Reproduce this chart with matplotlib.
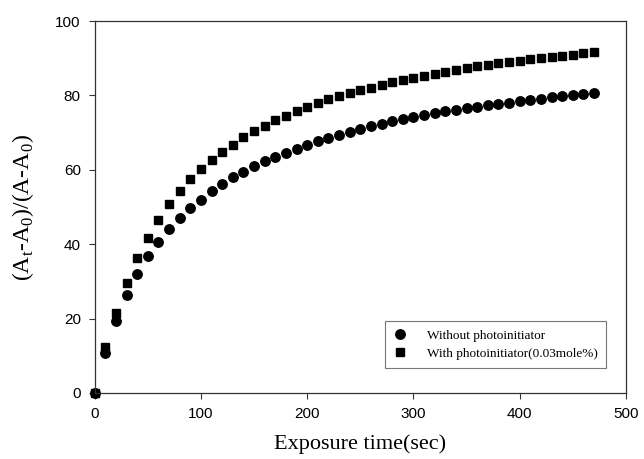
import numpy as np
import matplotlib
matplotlib.use("Agg")
import matplotlib.pyplot as plt

# exposure time (sec), sampled every 10 s
time_sec = list(range(0, 480, 10))

without_pi = [0.0, 10.7, 19.4, 26.3, 31.9, 36.7, 40.7, 44.1, 47.0, 49.8,
              52.0, 54.3, 56.2, 58.0, 59.5, 61.0, 62.4, 63.4, 64.5, 65.6,
              66.7, 67.7, 68.5, 69.4, 70.2, 71.0, 71.7, 72.4, 73.0, 73.6,
              74.2, 74.7, 75.2, 75.7, 76.2, 76.6, 76.9, 77.4, 77.8, 78.1,
              78.5, 78.8, 79.1, 79.5, 79.8, 80.1, 80.3, 80.6]

with_pi = [0.0, 12.4, 21.6, 29.6, 36.2, 41.7, 46.5, 50.7, 54.3, 57.4,
           60.2, 62.6, 64.8, 66.7, 68.7, 70.4, 71.8, 73.4, 74.5, 75.8,
           76.9, 78.0, 79.0, 79.8, 80.6, 81.4, 82.1, 82.8, 83.5, 84.1,
           84.7, 85.3, 85.8, 86.3, 86.8, 87.3, 87.9, 88.2, 88.6, 89.0,
           89.4, 89.7, 90.0, 90.4, 90.7, 91.0, 91.4, 91.7]

x_ticks = [0, 100, 200, 300, 400, 500]
y_ticks = [0, 20, 40, 60, 80, 100]

serif = ["Liberation Serif", "DejaVu Serif"]
sans = ["Liberation Sans", "DejaVu Sans"]

fig = plt.figure(figsize=(6.44, 4.59), dpi=100)
ax = fig.add_axes([0.147, 0.144, 0.825, 0.810])

ax.plot(time_sec, without_pi, "o", color="black", markersize=6.8,
        linestyle="none", label="Without photoinitiator", clip_on=False)
ax.plot(time_sec, with_pi, "s", color="black", markersize=6.0,
        linestyle="none", label="With photoinitiator(0.03mole%)", clip_on=False)

ax.set_xlim(0, 500)
ax.set_ylim(0, 100)
ax.set_xticks(x_ticks)
ax.set_yticks(y_ticks)
for lab in ax.get_xticklabels() + ax.get_yticklabels():
    lab.set_family(sans)
    lab.set_fontsize(11)
ax.tick_params(direction="out", length=4, width=0.8, color="#333333", pad=6)

for sp in ax.spines.values():
    sp.set_linewidth(0.9)
    sp.set_color("#333333")

ax.set_xlabel("Exposure time(sec)", family=serif, fontsize=16, labelpad=10)
ax.set_ylabel(r"(A$_\mathregular{t}$-A$_\mathregular{0}$)/(A-A$_\mathregular{0}$)",
              family=serif, fontsize=17, labelpad=14)

leg = ax.legend(loc="lower right", bbox_to_anchor=(0.975, 0.05),
                prop={"family": serif, "size": 9.5}, frameon=True,
                fancybox=False, borderpad=0.6, handletextpad=1.6,
                labelspacing=0.45, handlelength=1.0)
leg.get_frame().set_edgecolor("#555555")
leg.get_frame().set_linewidth(0.8)

fig.savefig("out.png", dpi=100)
